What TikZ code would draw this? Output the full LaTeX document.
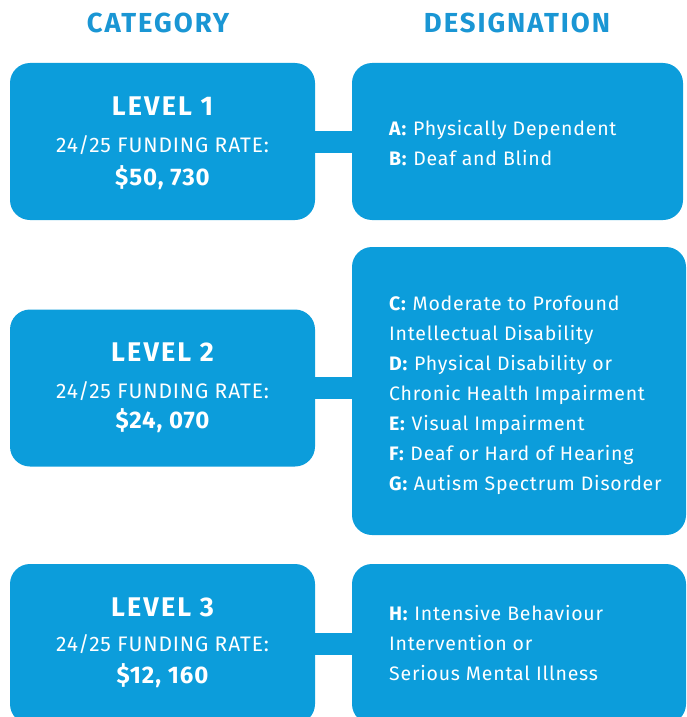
\documentclass[tikz,border=0pt]{standalone}
\usepackage{fontspec}
\setmainfont{Fira Sans}
\definecolor{brandblue}{HTML}{0C9DDB}
\definecolor{headblue}{HTML}{1A96D4}
\begin{document}
\begin{tikzpicture}[x=1pt,y=-1pt,
  panel/.style={fill=brandblue, draw=none, rounded corners=20pt, inner sep=0pt},
  link/.style={draw=brandblue, line width=22pt},
  head/.style={text=headblue, font=\fontsize{27.5}{30}\selectfont\bfseries\addfontfeature{LetterSpace=7}},
  lvl/.style={text=white, font=\fontsize{27}{30}\selectfont\bfseries\addfontfeature{LetterSpace=8}},
  rate/.style={text=white, font=\fontsize{21}{24}\selectfont\addfontfeature{LetterSpace=4}},
  amount/.style={text=white, font=\fontsize{24}{28}\selectfont\bfseries\addfontfeature{LetterSpace=4}},
  items/.style={text=white, align=left, anchor=west, inner sep=0pt,
                font=\fontsize{19.5}{30}\selectfont\addfontfeature{LetterSpace=4}},
]
\useasboundingbox (0,0) rectangle (687,717);
\clip (0,0) rectangle (687,717);

% column headers
\node[head] (hcat) at (158,23) {CATEGORY};
\node[head] (hdes) at (517,23) {DESIGNATION};

% level 1
\node[panel, minimum width=305pt, minimum height=157pt] (l1) at (162.5,141.5) {};
\node[panel, minimum width=331pt, minimum height=157pt] (r1) at (517.5,141.5) {};
\draw[link] (l1.east) -- (l1.east -| r1.west);
\node[lvl] (l1a) at (162.5,106) {LEVEL 1};
\node[rate] (l1b) at (162.5,145) {24/25 FUNDING RATE:};
\node[amount] (l1c) at (162.5,178) {\$50, 730};
\node[items] (r1t) at (389,143) {\textbf{A:} Physically Dependent\\\textbf{B:} Deaf and Blind};

% level 2
\node[panel, minimum width=305pt, minimum height=157pt] (l2) at (162.5,388) {};
\node[panel, minimum width=334pt, minimum height=288pt] (r2) at (519,391) {};
\draw[link] (l2.east) -- (l2.east -| r2.west);
\node[lvl] (l2a) at (162.5,352) {LEVEL 2};
\node[rate] (l2b) at (162.5,391) {24/25 FUNDING RATE:};
\node[amount] (l2c) at (162.5,421) {\$24, 070};
\node[items] (r2t) at (389,395.5) {\textbf{C:} Moderate to Profound\\Intellectual Disability\\\textbf{D:} Physical Disability or\\Chronic Health Impairment\\\textbf{E:} Visual Impairment\\\textbf{F:} Deaf or Hard of Hearing\\\textbf{G:} Autism Spectrum Disorder};

% level 3 (runs past the lower edge)
\node[panel, minimum width=305pt, minimum height=160pt] (l3) at (162.5,644) {};
\node[panel, minimum width=334pt, minimum height=160pt] (r3) at (519,644) {};
\draw[link] (l3.east) -- (l3.east -| r3.west);
\node[lvl] (l3a) at (162.5,607) {LEVEL 3};
\node[rate] (l3b) at (162.5,644) {24/25 FUNDING RATE:};
\node[amount] (l3c) at (162.5,676) {\$12, 160};
\node[items] (r3t) at (389,643) {\textbf{H:} Intensive Behaviour\\Intervention or\\Serious Mental Illness};
\end{tikzpicture}
\end{document}
